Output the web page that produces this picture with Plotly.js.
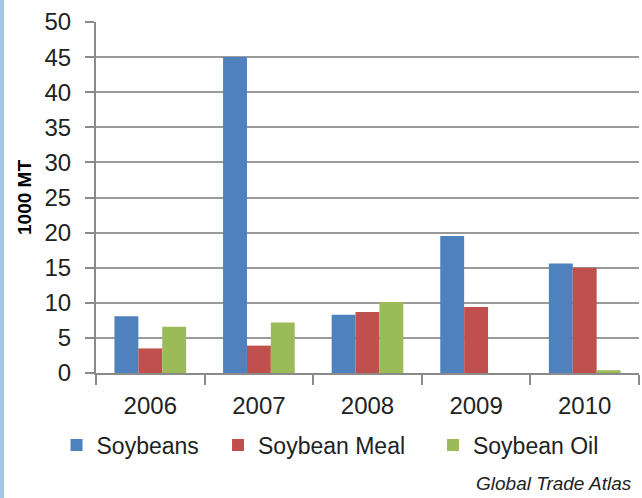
<!DOCTYPE html>
<html>
<head>
<meta charset="utf-8">
<script src="https://cdn.plot.ly/plotly-3.0.1.min.js"></script>
<style>
  body { margin: 0; background: #fff; }
  #chart { width: 638px; height: 498px; border-left: 4px solid #a6c4e8; }
</style>
</head>
<body>
<div id="chart"></div>
<script>
// years on the x axis
var years = ["2006", "2007", "2008", "2009", "2010"];

// values in 1000 MT
var soybeans = [8.1, 45.0, 8.3, 19.5, 15.6];
var soybeanMeal = [3.5, 3.9, 8.7, 9.4, 15.0];
var soybeanOil = [6.6, 7.2, 10.1, null, 0.4];

var font = "Liberation Sans, Arial, sans-serif";

// one legend per series so each entry can sit where it does in the original
var data = [
  { x: years, y: soybeans, name: "Soybeans", type: "bar", marker: { color: "#4f81bd" }, legend: "legend" },
  { x: years, y: soybeanMeal, name: "Soybean Meal", type: "bar", marker: { color: "#c0504d" }, legend: "legend2" },
  { x: years, y: soybeanOil, name: "Soybean Oil", type: "bar", marker: { color: "#9bbb59" }, legend: "legend3" }
];

function legendAt(x) {
  return {
    orientation: "h",
    x: x, xanchor: "left",
    y: -0.205, yanchor: "middle",
    font: { size: 23, color: "#222" },
    bgcolor: "rgba(0,0,0,0)"
  };
}

var layout = {
  width: 638,
  height: 498,
  margin: { l: 92, r: 3, t: 22, b: 125 },
  paper_bgcolor: "#fff",
  plot_bgcolor: "#fff",
  font: { family: font, size: 24, color: "#222" },
  barmode: "group",
  bargap: 0.34,
  bargroupgap: 0,
  showlegend: true,
  legend: legendAt(-0.0727),
  legend2: legendAt(0.2247),
  legend3: legendAt(0.6206),
  xaxis: {
    type: "category",
    showline: true, linecolor: "#8a8a8a", linewidth: 2,
    ticks: "outside", tickson: "boundaries", ticklen: 10, tickwidth: 2, tickcolor: "#8a8a8a",
    ticklabelstandoff: 10,
    showgrid: false
  },
  yaxis: {
    range: [0, 50], dtick: 5,
    title: { text: "<b>1000 MT</b>", font: { size: 19, color: "#000" }, standoff: 8 },
    showline: true, linecolor: "#8a8a8a", linewidth: 2,
    ticks: "outside", ticklen: 9, tickwidth: 2, tickcolor: "#8a8a8a",
    ticklabelstandoff: 9,
    showgrid: true, gridcolor: "#9a9a9a", gridwidth: 2,
    zeroline: false
  },
  annotations: [{
    text: "<i>Global Trade Atlas</i>",
    xref: "paper", yref: "paper",
    x: 0.697, y: -0.35, xanchor: "left", yanchor: "bottom",
    showarrow: false,
    font: { size: 19, color: "#222" }
  }]
};

Plotly.newPlot("chart", data, layout, { displayModeBar: false, staticPlot: true });
</script>
</body>
</html>
